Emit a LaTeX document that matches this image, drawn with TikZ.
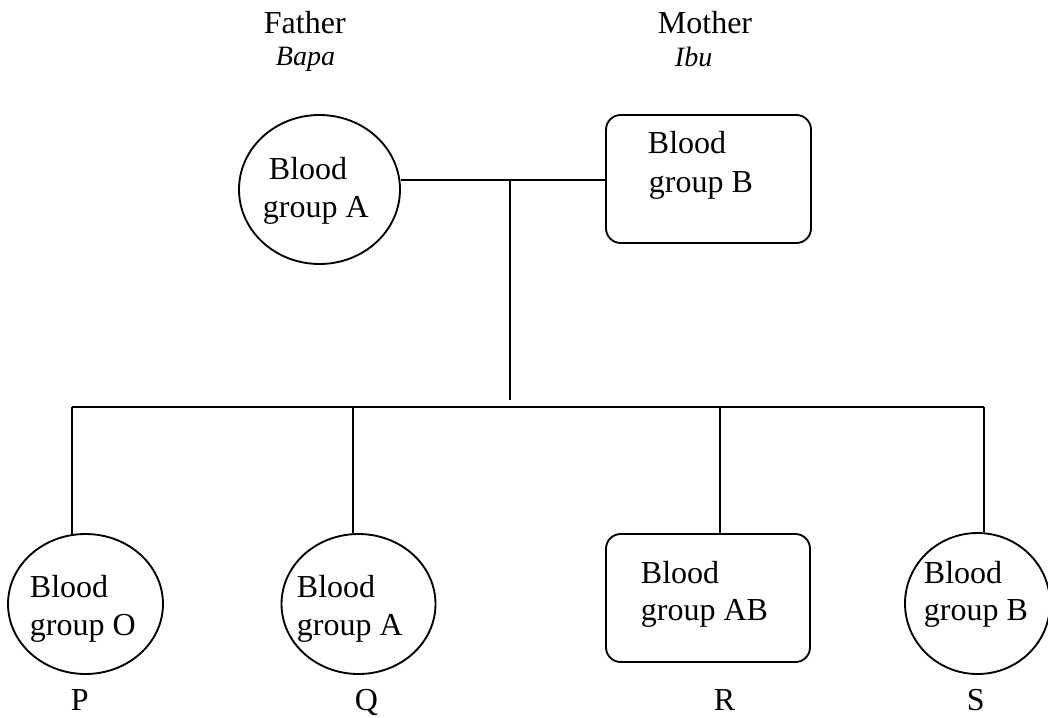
\documentclass[tikz,border=0pt]{standalone}
\usepackage{fontspec}
\setmainfont{Liberation Serif}
\usetikzlibrary{shapes.geometric}
\begin{document}
\begin{tikzpicture}[x=0.75pt,y=-0.75pt,
  every path/.style={line width=1.4pt},
  oval/.style={draw, ellipse, inner sep=0pt, line width=1.4pt},
  rbox/.style={draw, rectangle, rounded corners=11pt, inner sep=0pt, line width=1.4pt},
  txt/.style={anchor=base west, inner sep=0pt, font=\fontsize{24}{29}\selectfont},
  itxt/.style={anchor=base west, inner sep=0pt, font=\fontsize{21}{25}\selectfont\itshape},
  conn/.style={draw, line width=1.4pt}]
\useasboundingbox (0,0) rectangle (1048,717);

% titles
\node[txt] (tf) at (263,34) {Father};
\node[itxt] (tb) at (275,65) {Bapa};
\node[txt] (tm) at (657,34) {Mother};
\node[itxt] (ti) at (674,66) {Ibu};

% parents
\node[oval, minimum width=120.75pt, minimum height=111.75pt] (fa) at (319.5,189.5) {};
\node[rbox, minimum width=153.75pt, minimum height=96pt] (mo) at (708.5,179) {};
\node[txt] (fa1) at (268,179) {Blood};
\node[txt] (fa2) at (262,217) {group A};
\node[txt] (mo1) at (647,153) {Blood};
\node[txt] (mo2) at (648,192) {group B};

% children
\node[oval, minimum width=116.25pt, minimum height=105pt] (cp) at (85.5,604) {};
\node[oval, minimum width=115.5pt, minimum height=105pt] (cq) at (358.5,604) {};
\node[rbox, minimum width=153pt, minimum height=96pt] (cr) at (708,598) {};
\node[oval, minimum width=108.75pt, minimum height=105.75pt] (cs) at (977.5,603.5) {};

\node[txt] (cp1) at (29,597) {Blood};
\node[txt] (cp2) at (29,635) {group O};
\node[txt] (cq1) at (296,597) {Blood};
\node[txt] (cq2) at (296,635) {group A};
\node[txt] (cr1) at (640,583) {Blood};
\node[txt] (cr2) at (640,620) {group AB};
\node[txt] (cs1) at (923,583) {Blood};
\node[txt] (cs2) at (923,620) {group B};

\node[txt] (lp) at (70,710) {P};
\node[txt] (lq) at (354,710) {Q};
\node[txt] (lr) at (713,710) {R};
\node[txt] (ls) at (966,710) {S};

% connectors
\coordinate (j) at (510,180);
\coordinate (jb) at (510,400);
\coordinate (b1) at (72,407);
\coordinate (b2) at (353,407);
\coordinate (b3) at (720,407);
\coordinate (b4) at (984,407);

\draw[conn] (fa.east |- j) -- (mo.west |- j);
\draw[conn] (j) -- (jb);
\draw[conn] (b1) -- (b4);
\draw[conn] (b1) -- (b1 |- 0,535);
\draw[conn] (b2) -- (b2 |- cq.north);
\draw[conn] (b3) -- (b3 |- cr.north);
\draw[conn] (b4) -- (b4 |- cs.north);
\end{tikzpicture}
\end{document}
